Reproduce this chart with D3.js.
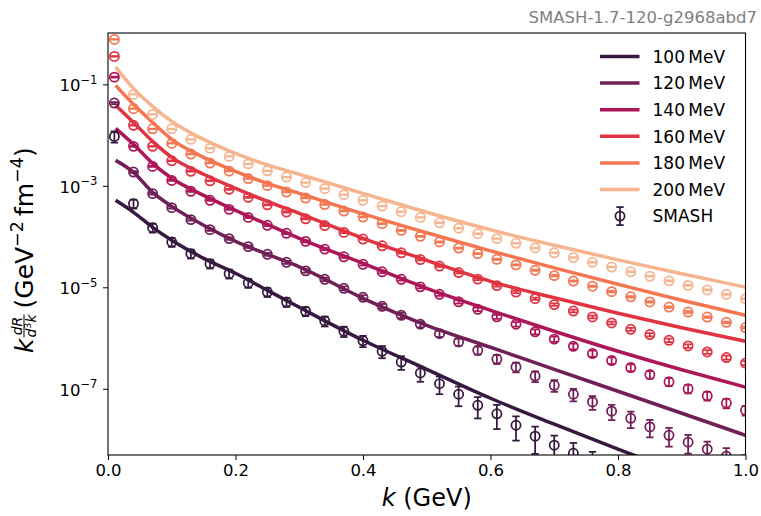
<!DOCTYPE html>
<html><head><meta charset="utf-8">
<script src="https://cdn.jsdelivr.net/npm/d3@7"></script>
<style>body{margin:0;background:#fff} svg{display:block;font-family:"DejaVu Sans",sans-serif}</style>
</head><body><svg id="c" width="761" height="516"></svg>
<script>
// ---------------- data ----------------
const temperatures = ["100", "120", "140", "160", "180", "200"];
const colors = ["#35193e", "#701f57", "#ad1759", "#e13342", "#f37651", "#f6b48f"];

const kSmash = [0.01,0.04,0.07,0.10,0.13,0.16,0.19,0.22,0.25,0.28,0.31,0.34,0.37,0.40,0.43,0.46,0.49,
                0.52,0.55,0.58,0.61,0.64,0.67,0.70,0.73,0.76,0.79,0.82,0.85,0.88,0.91,0.94,0.97,1.00];
const kLine = [0.012,0.04,0.07,0.10,0.15,0.20,0.25,0.30,0.40,0.50,0.60,0.70,0.80,0.90,1.00];

const line100 = [5.18e-4,3.01e-4,1.52e-4,8.43e-5,3.72e-5,1.89e-5,8.73e-6,4.04e-6,9.04e-7,2.42e-7,6.50e-8,2.00e-8,6.43e-9,2.16e-9];
const line120 = [3.18e-3,1.85e-3,7.45e-4,3.94e-4,1.67e-4,8.05e-5,4.47e-5,2.54e-5,6.07e-6,1.78e-6,6.58e-7,2.42e-7,8.93e-8,3.29e-8,1.21e-8];
const line140 = [1.36e-2,6.58e-3,2.77e-3,1.41e-3,6.50e-4,3.29e-4,1.74e-4,9.25e-5,2.97e-5,9.55e-6,3.52e-6,1.36e-6,5.48e-7,2.37e-7,1.08e-7];
const line160 = [3.85e-2,1.78e-2,7.53e-3,3.65e-3,1.69e-3,8.93e-4,4.95e-4,2.87e-4,9.25e-5,3.40e-5,1.31e-5,6.21e-6,3.08e-6,1.59e-6,8.63e-7];
const line180 = [9.55e-2,4.04e-2,1.78e-2,8.24e-3,3.65e-3,1.93e-3,1.12e-3,7.11e-4,2.81e-4,1.19e-4,5.24e-5,2.42e-5,1.15e-5,5.55e-6,2.81e-6];
const line200 = [0.219,8.34e-2,3.69e-2,1.87e-2,8.24e-3,4.37e-3,2.59e-3,1.69e-3,7.11e-4,3.01e-4,1.36e-4,6.73e-5,3.48e-5,1.85e-5,1.01e-5];

const smash100 = [9.44e-3,4.46e-4,1.50e-4,7.82e-5,4.61e-5,2.93e-5,1.86e-5,1.22e-5,8.07e-6,5.13e-6,3.37e-6,2.17e-6,1.36e-6,
                  8.83e-7,5.48e-7,3.37e-7,2.05e-7,1.26e-7,7.80e-8,4.73e-8,3.21e-8,1.91e-8,1.16e-8,7.71e-9,5.36e-9,3.56e-9];
const smash120 = [4.28e-2,1.87e-3,7.02e-4,3.72e-4,2.16e-4,1.37e-4,9.12e-5,6.34e-5,4.47e-5,3.11e-5,2.11e-5,1.44e-5,9.55e-6,
                  6.35e-6,4.23e-6,2.81e-6,1.87e-6,1.22e-6,8.36e-7,5.74e-7,3.85e-7,2.69e-7,1.78e-7,1.17e-7,7.80e-8,5.50e-8,
                  3.61e-8,2.62e-8,1.77e-8,1.21e-8,8.83e-9,6.43e-9,4.68e-9,3.40e-9];
const smash140 = [0.139,6.00e-3,2.42e-3,1.28e-3,7.80e-4,5.18e-4,3.44e-4,2.39e-4,1.67e-4,1.16e-4,8.05e-5,5.66e-5,3.99e-5,
                  2.84e-5,2.02e-5,1.44e-5,1.02e-5,7.28e-6,5.18e-6,3.69e-6,2.62e-6,1.87e-6,1.33e-6,9.53e-7,6.87e-7,4.94e-7,
                  3.60e-7,2.62e-7,1.91e-7,1.37e-7,1.00e-7,7.28e-8,5.22e-8,3.77e-8];
const smash160 = [0.356,1.56e-2,6.00e-3,3.11e-3,1.93e-3,1.26e-3,8.53e-4,5.93e-4,4.23e-4,3.05e-4,2.24e-4,1.65e-4,1.21e-4,
                  8.95e-5,6.58e-5,4.79e-5,3.52e-5,2.62e-5,1.95e-5,1.45e-5,1.08e-5,8.07e-6,5.98e-6,4.56e-6,3.41e-6,2.60e-6,
                  1.98e-6,1.49e-6,1.17e-6,9.04e-7,6.97e-7,5.31e-7,4.12e-7,3.22e-7];
const smash180 = [0.770,3.32e-2,1.33e-2,6.87e-3,4.24e-3,2.81e-3,1.95e-3,1.39e-3,1.01e-3,7.55e-4,5.75e-4,4.27e-4,3.18e-4,
                  2.43e-4,1.80e-4,1.33e-4,1.01e-4,7.82e-5,5.94e-5,4.61e-5,3.56e-5,2.77e-5,2.16e-5,1.70e-5,1.33e-5,1.05e-5,
                  8.22e-6,6.50e-6,5.15e-6,4.09e-6,3.26e-6,2.59e-6,2.04e-6,1.61e-6];
const smash200 = [null,6.35e-2,2.56e-2,1.33e-2,8.24e-3,5.48e-3,3.81e-3,2.71e-3,1.98e-3,1.49e-3,1.16e-3,8.81e-4,6.71e-4,
                  5.18e-4,4.00e-4,3.10e-4,2.39e-4,1.87e-4,1.46e-4,1.14e-4,9.12e-5,7.36e-5,5.97e-5,4.79e-5,3.85e-5,3.11e-5,
                  2.51e-5,2.02e-5,1.65e-5,1.34e-5,1.09e-5,8.89e-6,7.28e-6,5.98e-6];

// relative statistical errors of the SMASH points
const relErr100 = [0.25,0.2,0.2,0.2,0.2,0.2,0.2,0.2,0.2,0.2,0.2,0.22,0.23,0.25,0.27,0.3,0.33,0.38,0.42,0.45,0.5,0.5,0.55,0.55,0.6,0.6];
const relErr120 = [0.05,0.04,0.04,0.045,0.05,0.05,0.055,0.06,0.065,0.07,0.075,0.08,0.09,0.1,0.11,0.12,0.13,0.14,0.16,0.18,
                   0.2,0.22,0.24,0.26,0.28,0.3,0.33,0.36,0.38,0.4,0.4,0.42,0.44,0.45];
const relErr140 = [0.02,0.02,0.02,0.022,0.024,0.026,0.028,0.03,0.033,0.036,0.04,0.044,0.048,0.052,0.056,0.06,0.065,0.07,
                   0.075,0.08,0.09,0.1,0.11,0.12,0.13,0.14,0.15,0.16,0.17,0.18,0.19,0.2,0.21,0.22];
const relErr160 = [0.015,0.015,0.015,0.016,0.017,0.018,0.019,0.02,0.022,0.024,0.026,0.028,0.03,0.032,0.034,0.036,0.038,
                   0.04,0.042,0.045,0.048,0.05,0.053,0.056,0.06,0.063,0.066,0.07,0.074,0.078,0.082,0.086,0.09,0.095];
const relErr180 = [0.012,0.012,0.012,0.012,0.013,0.013,0.014,0.014,0.015,0.015,0.016,0.017,0.018,0.019,0.02,0.021,0.022,
                   0.023,0.024,0.025,0.026,0.027,0.028,0.029,0.03,0.031,0.032,0.033,0.034,0.035,0.036,0.037,0.038,0.04];
const relErr200 = [0.01,0.01,0.01,0.01,0.01,0.01,0.01,0.01,0.01,0.01,0.01,0.012,0.012,0.012,0.012,0.013,0.013,0.014,
                   0.014,0.015,0.015,0.016,0.016,0.017,0.017,0.018,0.018,0.019,0.02,0.02,0.021,0.022,0.023,0.024];

const xTicks = [0.0, 0.2, 0.4, 0.6, 0.8, 1.0];
const yTickExps = [-1, -3, -5, -7];
const versionLabel = "SMASH-1.7-120-g2968abd7";

// ---------------- chart ----------------
const lines = [line100, line120, line140, line160, line180, line200];
const smash = [smash100, smash120, smash140, smash160, smash180, smash200];
const errs = [relErr100, relErr120, relErr140, relErr160, relErr180, relErr200];

const svg = d3.select("#c");
const m = {l: 108, r: 745.5, t: 33, b: 455};
const x = d3.scaleLinear().domain([0, 1]).range([m.l, m.r]);
const y = d3.scaleLog().domain([4.95e-9, 1.03]).range([m.b, m.t]);

svg.append("defs").append("clipPath").attr("id", "clip")
  .append("rect").attr("x", m.l).attr("y", m.t).attr("width", m.r - m.l).attr("height", m.b - m.t);

const plot = svg.append("g").attr("clip-path", "url(#clip)");

const lineGen = d3.line().x(d => x(d[0])).y(d => y(d[1])).curve(d3.curveMonotoneX);

lines.forEach((vals, s) => {
  const pts = vals.map((v, i) => [kLine[i], v]);
  plot.append("path").attr("d", lineGen(pts)).attr("fill", "none")
    .attr("stroke", colors[s]).attr("stroke-width", 3.5).attr("stroke-linecap", "butt");
});

const capW = 3.7;
smash.forEach((vals, s) => {
  const g = plot.append("g").attr("stroke", colors[s]).attr("fill", "none").attr("stroke-width", 1.75);
  vals.forEach((v, i) => {
    if (v == null) return;
    const e = errs[s][i] * v;
    const cx = x(kSmash[i]);
    const y1 = y(v + e), y0 = y(v - e);
    g.append("line").attr("x1", cx).attr("x2", cx).attr("y1", y1).attr("y2", y0);
    g.append("line").attr("x1", cx - capW).attr("x2", cx + capW).attr("y1", y1).attr("y2", y1);
    g.append("line").attr("x1", cx - capW).attr("x2", cx + capW).attr("y1", y0).attr("y2", y0);
    g.append("circle").attr("cx", cx).attr("cy", y(v)).attr("r", 4.6);
  });
});

// axes
const xAxis = d3.axisBottom(x).tickValues(xTicks).tickFormat(d3.format(".1f")).tickSize(5).tickSizeOuter(0).tickPadding(4);
const gx = svg.append("g").attr("transform", `translate(0,${m.b})`).call(xAxis);
gx.select(".domain").remove();
gx.selectAll("line").attr("stroke", "#000").attr("stroke-width", 1);
gx.selectAll("text").attr("font-size", 16.5).attr("fill", "#000").attr("font-family", "DejaVu Sans").attr("dy", "0.71em");

const yAxis = d3.axisLeft(y).tickValues(yTickExps.map(e => Math.pow(10, e))).tickFormat("").tickSize(5).tickSizeOuter(0);
const gy = svg.append("g").attr("transform", `translate(${m.l},0)`).call(yAxis);
gy.select(".domain").remove();
gy.selectAll("line").attr("stroke", "#000").attr("stroke-width", 1);

yTickExps.forEach(e => {
  const t = svg.append("text").attr("x", 97.5).attr("y", y(Math.pow(10, e)) + 7)
    .attr("text-anchor", "end").attr("font-size", 16.5).attr("fill", "#000");
  t.append("tspan").text("10");
  t.append("tspan").attr("dy", -7.5).attr("font-size", 11.6).text("\u2212" + Math.abs(e));
});

// frame
svg.append("rect").attr("x", m.l).attr("y", m.t).attr("width", m.r - m.l).attr("height", m.b - m.t)
  .attr("fill", "none").attr("stroke", "#000").attr("stroke-width", 1.1);

// x label
const xl = svg.append("text").attr("x", (m.l + m.r) / 2).attr("y", 506).attr("text-anchor", "middle")
  .attr("font-size", 24).attr("fill", "#000");
xl.append("tspan").attr("font-style", "italic").text("k");
xl.append("tspan").text(" (GeV)");

// y label (rotated)
const yl = svg.append("g").attr("transform", "translate(33,245.5) rotate(-90)").attr("fill", "#000");
yl.append("text").attr("x", -107.5).attr("y", 0).attr("font-size", 25).attr("font-style", "italic").text("k");
yl.append("text").attr("x", -80.5).attr("y", -11.5).attr("text-anchor", "middle").attr("font-size", 14)
  .attr("font-style", "italic").text("dR");
yl.append("line").attr("x1", -92).attr("x2", -69).attr("y1", -9).attr("y2", -9).attr("stroke", "#000").attr("stroke-width", 1);
const den = yl.append("text").attr("x", -80.5).attr("y", 3).attr("text-anchor", "middle").attr("font-size", 14).attr("font-style", "italic");
den.append("tspan").text("d");
den.append("tspan").attr("dy", -5).attr("font-size", 9.5).attr("font-style", "normal").text("3");
den.append("tspan").attr("dy", 5).text("k");
const unit = yl.append("text").attr("x", -63).attr("y", 0).attr("font-size", 25);
unit.append("tspan").text("(GeV");
unit.append("tspan").attr("dy", -10).attr("font-size", 17.5).text("\u22122");
unit.append("tspan").attr("dy", 10).text("\u2009fm");
unit.append("tspan").attr("dy", -10).attr("font-size", 17.5).text("\u22124");
unit.append("tspan").attr("dy", 10).text(")");

// title
svg.append("text").attr("x", 757).attr("y", 23).attr("text-anchor", "end").attr("font-size", 16.5)
  .attr("fill", "#808080").text(versionLabel);

// legend
const lg = svg.append("g");
const rowY = i => 56.5 + i * 26.6;
temperatures.forEach((t, i) => {
  lg.append("line").attr("x1", 600).attr("x2", 639.5).attr("y1", rowY(i)).attr("y2", rowY(i))
    .attr("stroke", colors[i]).attr("stroke-width", 3.5);
  lg.append("text").attr("x", 652.5).attr("y", rowY(i) + 6.3).attr("font-size", 17).attr("fill", "#000")
    .text(t + "\u2009MeV");
});
const sy = rowY(6);
const sg = lg.append("g").attr("stroke", colors[0]).attr("fill", "none").attr("stroke-width", 1.75);
sg.append("line").attr("x1", 620).attr("x2", 620).attr("y1", sy - 9).attr("y2", sy + 9);
sg.append("line").attr("x1", 620 - capW).attr("x2", 620 + capW).attr("y1", sy - 9).attr("y2", sy - 9);
sg.append("line").attr("x1", 620 - capW).attr("x2", 620 + capW).attr("y1", sy + 9).attr("y2", sy + 9);
sg.append("circle").attr("cx", 620).attr("cy", sy).attr("r", 4.6);
lg.append("text").attr("x", 652.5).attr("y", sy + 6.3).attr("font-size", 17).attr("fill", "#000").text("SMASH");
</script></body></html>
